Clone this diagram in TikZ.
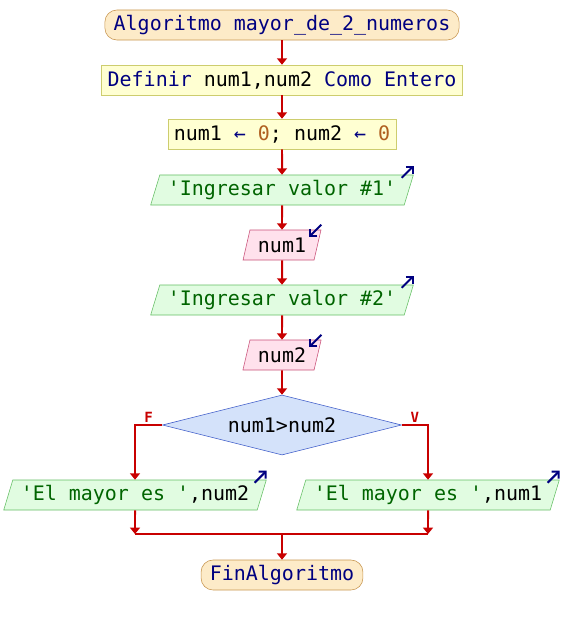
\documentclass[tikz,border=0pt]{standalone}
\usepackage{fontspec}
\setmonofont{DejaVu Sans Mono}
\usetikzlibrary{shapes.geometric,arrows.meta}
\definecolor{flecha}{RGB}{200,0,0}
\definecolor{azul}{RGB}{0,0,128}
\definecolor{verde}{RGB}{0,100,0}
\definecolor{cero}{RGB}{176,96,32}
\definecolor{termfondo}{RGB}{253,235,200}
\definecolor{termborde}{RGB}{200,150,80}
\definecolor{procfondo}{RGB}{255,255,210}
\definecolor{procborde}{RGB}{205,205,110}
\definecolor{salfondo}{RGB}{225,252,225}
\definecolor{salborde}{RGB}{100,190,100}
\definecolor{entfondo}{RGB}{255,225,236}
\definecolor{entborde}{RGB}{200,80,120}
\definecolor{decfondo}{RGB}{212,226,250}
\definecolor{decborde}{RGB}{60,90,200}

\begin{document}
\begin{tikzpicture}[x=0.025cm,y=-0.025cm,
 font=\ttfamily\fontsize{14.2}{16}\selectfont,
 terminal/.style={draw=termborde,fill=termfondo,rounded corners=0.3cm,inner xsep=0.22cm,minimum height=0.75cm,text=azul},
 proceso/.style={draw=procborde,fill=procfondo,inner xsep=0.15cm,minimum height=0.75cm},
 salida/.style={trapezium,trapezium left angle=65,trapezium right angle=115,trapezium stretches=true,draw=salborde,fill=salfondo,inner xsep=0.2cm,inner ysep=0pt,minimum height=0.75cm},
 entrada/.style={salida,draw=entborde,fill=entfondo},
 decision/.style={diamond,aspect=4,draw=decborde,fill=decfondo,minimum width=5.975cm,minimum height=1.5cm,inner sep=0pt},
 flujo/.style={draw=flecha,line width=1.4pt,-{Triangle[width=7pt,length=4.5pt]}},
 linea/.style={draw=flecha,line width=1.4pt},
 etiq/.style={text=flecha,font=\ttfamily\bfseries\fontsize{10}{12}\selectfont,inner sep=1pt},
 icono/.style={draw=azul,line width=1.4pt,-{Straight Barb[length=3.5pt,width=7pt]}}]
 \useasboundingbox (0,0) rectangle (564,625); %全体
 \node[terminal] (ini) at (282,25) {Algoritmo mayor\_de\_2\_numeros}; %開始
 \node[proceso,text=azul] (def) at (282,80) {Definir {\color{black}num1,num2} Como Entero}; %定義
 \node[proceso] (asig) at (282,134) {num1 {\color{azul}←} {\color{cero}0}; num2 {\color{azul}←} {\color{cero}0}}; %代入
 \node[salida] (sal1) at (282,190) {{\color{verde}'Ingresar valor \#1'}}; %出力1
 \node[entrada] (ent1) at (282,245) {num1}; %入力1
 \node[salida] (sal2) at (282,300) {{\color{verde}'Ingresar valor \#2'}}; %出力2
 \node[entrada] (ent2) at (282,355) {num2}; %入力2
 \node[decision] (dec) at (282,425) {num1>num2}; %分岐
 \node[salida] (izq) at (135,495) {{\color{verde}'El mayor es '},num2}; %左
 \node[salida] (der) at (428,495) {{\color{verde}'El mayor es '},num1}; %右
 \coordinate (ui) at (135,534); %合流左
 \coordinate (ud) at (428,534); %合流右
 \coordinate (um) at (282,534); %合流中
 \node[terminal] (fin) at (282,575) {FinAlgoritmo}; %終了
 \draw[flujo] (ini) -- (def);
 \draw[flujo] (def) -- (asig);
 \draw[flujo] (asig) -- (sal1);
 \draw[flujo] (sal1) -- (ent1);
 \draw[flujo] (ent1) -- (sal2);
 \draw[flujo] (sal2) -- (ent2);
 \draw[flujo] (ent2) -- (dec);
 \draw[flujo] (dec.west) -| node[pos=0.25,above,etiq] {F} (izq.north); %偽
 \draw[flujo] (dec.east) -| node[pos=0.25,above,etiq] {V} (der.north); %真
 \draw[flujo] (izq.south) -- (ui);
 \draw[flujo] (der.south) -- (ud);
 \draw[linea] (ui) -- (ud);
 \draw[flujo] (um) -- (fin);
 \draw[icono] ([shift={(-12,3)}]sal1.top right corner) -- ++(12,-12); %出力マーク
 \draw[icono] ([shift={(-12,3)}]sal2.top right corner) -- ++(12,-12);
 \draw[icono] ([shift={(-12,3)}]izq.top right corner) -- ++(12,-12);
 \draw[icono] ([shift={(-12,3)}]der.top right corner) -- ++(12,-12);
 \draw[icono] ([shift={(0,-5)}]ent1.top right corner) -- ++(-12,12); %入力マーク
 \draw[icono] ([shift={(0,-5)}]ent2.top right corner) -- ++(-12,12);
\end{tikzpicture}
\end{document}
